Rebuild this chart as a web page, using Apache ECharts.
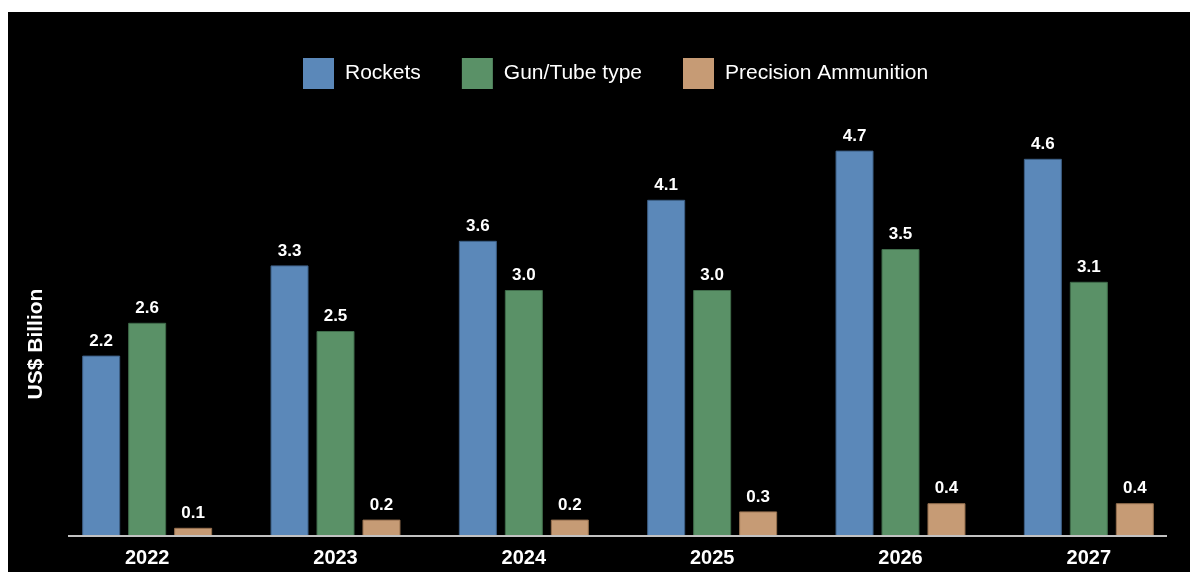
<!DOCTYPE html>
<html>
<head>
<meta charset="utf-8">
<script src="https://cdn.jsdelivr.net/npm/echarts@6/dist/echarts.min.js"></script>
<style>
  html, body { margin: 0; padding: 0; background: #ffffff; }
  #chart { position: absolute; left: 8px; top: 12px; width: 1182px; height: 560px; }
</style>
</head>
<body>
<div id="chart"></div>
<script>
// Market size by ammunition type, US$ billion
const years = ['2022', '2023', '2024', '2025', '2026', '2027'];
const rockets = [2.2, 3.3, 3.6, 4.1, 4.7, 4.6];
const gunTube = [2.6, 2.5, 3.0, 3.0, 3.5, 3.1];
const precision = [0.1, 0.2, 0.2, 0.3, 0.4, 0.4];
const seriesNames = ['Rockets', 'Gun/Tube type', 'Precision Ammunition'];
const colors = ['#5b88b9', '#5a9167', '#c69b75'];
const borders = ['#3d5f85', '#3f6b4a', '#96704f'];

const FONT = '"Liberation Sans", Arial, Helvetica, sans-serif';
const chart = echarts.init(document.getElementById('chart'));

function barSeries(name, data, i) {
  return {
    name: name,
    type: 'bar',
    data: data,
    barWidth: 38,
    barGap: '21%',
    itemStyle: { color: colors[i], borderColor: borders[i], borderWidth: 1 },
    label: {
      show: true,
      position: 'top',
      distance: 6,
      color: '#ffffff',
      fontFamily: FONT,
      fontWeight: 'bold',
      fontSize: 17,
      formatter: p => p.value.toFixed(1)
    }
  };
}

chart.setOption({
  backgroundColor: '#000000',
  animation: false,
  legend: {
    left: 290,
    top: 41,
    itemWidth: 31,
    itemHeight: 31,
    itemGap: 41,
    icon: 'rect',
    itemStyle: { borderWidth: 0 },
    textStyle: { color: '#ffffff', fontFamily: FONT, fontSize: 21, padding: [0, 0, 0, 6] },
    data: seriesNames
  },
  grid: { left: 45, right: 7, top: 114, bottom: 36 },
  xAxis: {
    type: 'category',
    data: years,
    axisLine: { show: false },
    axisTick: { show: false },
    axisLabel: {
      color: '#ffffff',
      fontFamily: FONT,
      fontWeight: 'bold',
      fontSize: 20,
      margin: 12
    }
  },
  yAxis: {
    type: 'value',
    min: 0,
    max: 5,
    show: false
  },
  graphic: [
    {
      type: 'line',
      shape: { x1: 60, y1: 524, x2: 1159, y2: 524 },
      style: { stroke: '#c2c2c2', lineWidth: 2 },
      z: 10
    },
    {
      type: 'text',
      x: 28,
      y: 332,
      rotation: Math.PI / 2,
      style: {
        text: 'US$ Billion',
        fill: '#ffffff',
        font: 'bold 21px ' + FONT,
        textAlign: 'center',
        textVerticalAlign: 'middle'
      }
    }
  ],
  series: [
    barSeries(seriesNames[0], rockets, 0),
    barSeries(seriesNames[1], gunTube, 1),
    barSeries(seriesNames[2], precision, 2)
  ]
});
</script>
</body>
</html>
